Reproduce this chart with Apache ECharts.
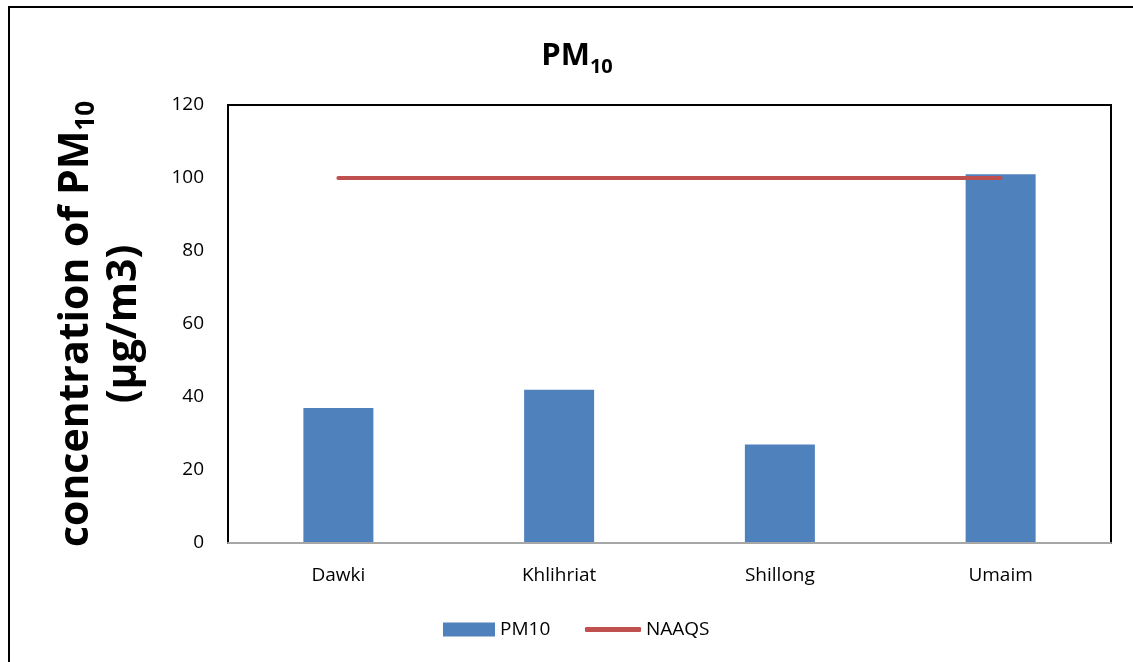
<!DOCTYPE html>
<html>
<head>
<meta charset="utf-8">
<script src="https://cdn.jsdelivr.net/npm/echarts@6/dist/echarts.min.js"></script>
<style>
  html, body { margin: 0; padding: 0; background: #fff; }
  #chart { width: 1133px; height: 662px; }
</style>
</head>
<body>
<div id="chart"></div>
<script>
// Sampling sites and measured PM10 concentrations (µg/m3)
const sites = ['Dawki', 'Khlihriat', 'Shillong', 'Umaim'];
const pm10Values = [37, 42, 27, 101];
// National Ambient Air Quality Standard for PM10
const naaqsValues = [100, 100, 100, 100];
const yTicks = { min: 0, max: 120, interval: 20 };

const FONT = '"Open Sans", "DejaVu Sans", sans-serif';
const chart = echarts.init(document.getElementById('chart'));

const legendText = { fontFamily: FONT, fontSize: 19, color: '#000' };

chart.setOption({
  animation: false,
  backgroundColor: '#fff',
  textStyle: { fontFamily: FONT, color: '#000' },
  graphic: [{
    type: 'rect',
    shape: { x: 9, y: 7, width: 1140, height: 680 },
    style: { fill: 'none', stroke: '#000', lineWidth: 2 },
    silent: true
  }],
  title: {
    text: '{m|PM}{s|10}',
    left: 572,
    textAlign: 'center',
    top: 31,
    textStyle: {
      rich: {
        m: { fontFamily: FONT, fontWeight: 'bold', fontSize: 31, lineHeight: 41, color: '#000' },
        s: { fontFamily: FONT, fontWeight: 'bold', fontSize: 20, lineHeight: 19, color: '#000', padding: [22, 0, 0, 0] }
      }
    }
  },
  legend: [
    {
      left: 443,
      top: 620,
      padding: 0,
      itemWidth: 52,
      itemHeight: 14,
      textStyle: legendText,
      data: [{ name: 'PM10', icon: 'rect' }]
    },
    {
      left: 585,
      top: 620,
      padding: 0,
      itemWidth: 56,
      itemHeight: 5,
      textStyle: legendText,
      data: [{ name: 'NAAQS', icon: 'roundRect' }]
    }
  ],
  grid: {
    left: 228, right: 22, top: 105, bottom: 119,
    show: true,
    borderColor: '#000',
    borderWidth: 2,
    containLabel: false
  },
  xAxis: {
    type: 'category',
    data: sites,
    boundaryGap: true,
    axisLine: { show: true, lineStyle: { color: '#a6a6a6', width: 2 } },
    axisTick: { show: false },
    axisLabel: { fontFamily: FONT, fontSize: 19, color: '#000', margin: 23 },
    z: 10
  },
  yAxis: {
    type: 'value',
    min: yTicks.min,
    max: yTicks.max,
    interval: yTicks.interval,
    name: '{a|concentration of PM}{b|10}\n{a|(µg/m3)}',
    nameLocation: 'middle',
    nameGap: 80,
    nameRotate: 90,
    nameTextStyle: {
      rich: {
        a: { fontFamily: FONT, fontWeight: 'bold', fontSize: 41, color: '#000', lineHeight: 48 },
        b: { fontFamily: FONT, fontWeight: 'bold', fontSize: 26, color: '#000', lineHeight: 26, padding: [22, 0, 0, 0] }
      }
    },
    axisLine: { show: true, lineStyle: { color: '#000', width: 2 } },
    axisTick: { show: false },
    splitLine: { show: false },
    axisLabel: { fontFamily: FONT, fontSize: 19, color: '#000', margin: 24 }
  },
  series: [
    {
      name: 'PM10',
      type: 'bar',
      data: pm10Values,
      barWidth: 70,
      itemStyle: { color: '#4F81BD' }
    },
    {
      name: 'NAAQS',
      type: 'line',
      data: naaqsValues,
      symbol: 'none',
      lineStyle: { color: '#C0504D', width: 4, cap: 'round' },
      itemStyle: { color: '#C0504D' },
      z: 5
    }
  ]
});
</script>
</body>
</html>
